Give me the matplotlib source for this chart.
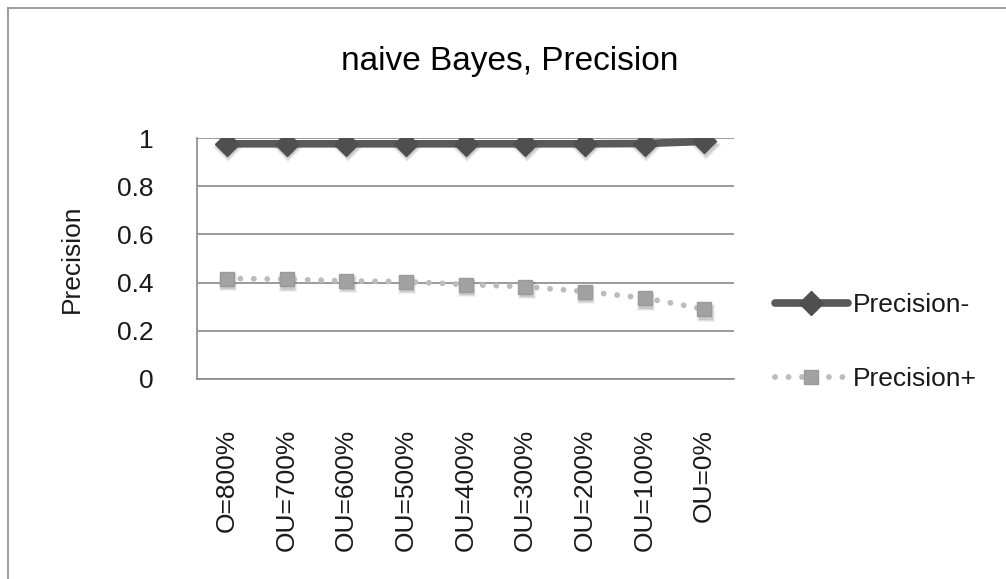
import numpy as np
import matplotlib
matplotlib.use('Agg')
import matplotlib.pyplot as plt
from matplotlib.lines import Line2D
from matplotlib.transforms import offset_copy

plt.rcParams['font.family'] = ['Liberation Sans', 'DejaVu Sans']

categories = ['O=800%', 'OU=700%', 'OU=600%', 'OU=500%', 'OU=400%',
              'OU=300%', 'OU=200%', 'OU=100%', 'OU=0%']
prec_neg = [0.976, 0.976, 0.976, 0.976, 0.976, 0.976, 0.976, 0.977, 0.986]
prec_pos = [0.417, 0.414, 0.407, 0.404, 0.392, 0.383, 0.363, 0.336, 0.290]
yticks = [0, 0.2, 0.4, 0.6, 0.8, 1]

W, H = 1006, 579
fig = plt.figure(figsize=(W/100, H/100), dpi=100)
fig.patch.set_facecolor('white')

# plot box in pixels: x 197..734, y 138..379
ax = fig.add_axes([197/W, 1-379/H, 537/W, 241/H])
x = np.arange(len(categories))

gridc = '#8a8a8a'
for s in ['top', 'right']:
    ax.spines[s].set_visible(False)
for s in ['left', 'bottom']:
    ax.spines[s].set_color(gridc)
    ax.spines[s].set_linewidth(1.2)
ax.set_yticks(yticks)
ax.set_yticklabels([('%g' % v) for v in yticks])
ax.yaxis.grid(True, color=gridc, linewidth=1.2)
ax.set_axisbelow(True)
ax.set_ylim(0, 1)
ax.set_xlim(-0.5, len(categories)-0.5)
ax.set_xticks(x)
ax.set_xticklabels(categories, rotation=90, va='top', ha='center')
ax.tick_params(axis='both', length=0, labelsize=19, colors='#1a1a1a')
ax.tick_params(axis='y', pad=31)
ax.tick_params(axis='x', pad=36)

# soft drop shadows under the markers (a few stacked translucent layers)
shadow = offset_copy(ax.transData, fig=fig, x=1.5, y=-3.5, units='dots')
for grow, a in [(3.0, 0.05), (1.5, 0.07), (0.0, 0.10)]:
    ax.plot(x, prec_neg, linestyle='none', marker='D', markersize=12.5+grow,
            markeredgewidth=0, color='black', alpha=a, transform=shadow, zorder=2)
    ax.plot(x, prec_pos, linestyle='none', marker='s', markersize=10+grow,
            markeredgewidth=0, color='black', alpha=a, transform=shadow, zorder=2)

ax.plot(x, prec_neg, color='#595959', linewidth=5.5, solid_capstyle='round',
        marker='D', markersize=12.5, markerfacecolor='#4f4f4f',
        markeredgecolor='#4f4f4f', label='Precision-', zorder=4)
ax.plot(x, prec_pos, color='#bcbcbc', linewidth=4.2,
        linestyle=(0, (0.01, 2.3)), dash_capstyle='round',
        marker='s', markersize=10, markerfacecolor='#a2a2a2',
        markeredgecolor='#9a9a9a', label='Precision+', zorder=3)

ax.set_ylabel('Precision', fontsize=19, color='#1a1a1a')
ax.yaxis.set_label_coords(-0.211, 0.5)

fig.text(510/W, 1-70/H, 'naive Bayes, Precision', fontsize=24,
         ha='center', va='baseline', color='black')

leg = fig.legend(loc='center left', bbox_to_anchor=(775/W, 1-342/H),
                 bbox_transform=fig.transFigure, frameon=False, fontsize=19,
                 handlelength=2.75, handletextpad=0.2, labelspacing=1.9,
                 borderpad=0, borderaxespad=0, numpoints=1)
for t in leg.get_texts():
    t.set_color('#1a1a1a')

# outer chart border (left and top edges only in view)
fig.add_artist(Line2D([8/W, 8/W], [0, 1-8/H], transform=fig.transFigure,
                      color='#8c8c8c', linewidth=1.2))
fig.add_artist(Line2D([8/W, 1], [1-8/H, 1-8/H], transform=fig.transFigure,
                      color='#8c8c8c', linewidth=1.2))

fig.savefig('out.png', dpi=100)
